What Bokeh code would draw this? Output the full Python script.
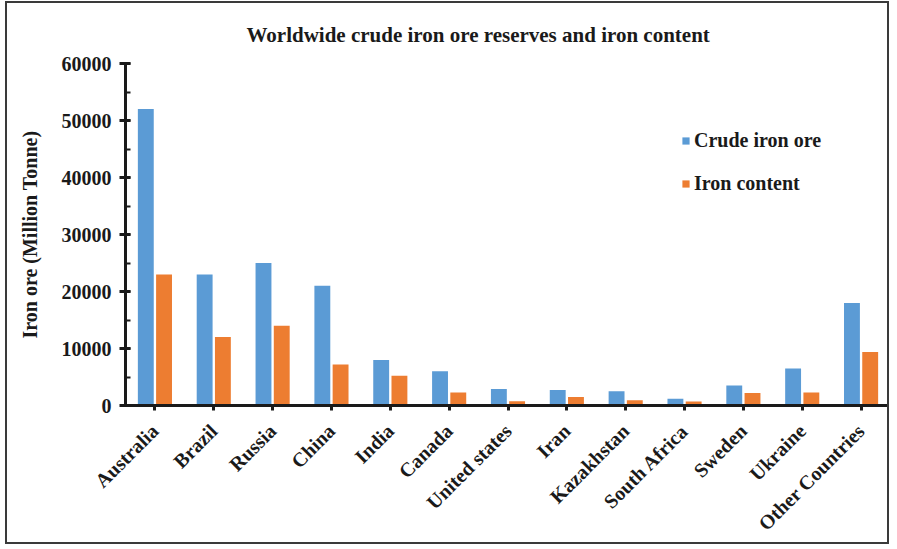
import math
from bokeh.plotting import figure
from bokeh.models import (FactorRange, Range1d, SingleIntervalTicker, Title,
                          Legend, LegendItem, ColumnDataSource)
from bokeh.transform import dodge
from bokeh.embed import file_html
from bokeh.resources import INLINE

# Reserves by country (million tonnes)
countries = ["Australia", "Brazil", "Russia", "China", "India", "Canada",
             "United states", "Iran", "Kazakhstan", "South Africa", "Sweden",
             "Ukraine", "Other Countries"]
crude_ore = [52000, 23000, 25000, 21000, 8000, 6000, 2900, 2700, 2500,
             1200, 3500, 6500, 18000]
iron_content = [23000, 12000, 14000, 7200, 5200, 2300, 760, 1500, 900,
                700, 2200, 2300, 9400]

BLUE = "#5B9BD5"
ORANGE = "#ED7D31"
SERIF = "Liberation Serif"
INK = "#1a1a1a"

src = ColumnDataSource(dict(country=countries, crude=crude_ore, iron=iron_content))

p = figure(
    x_range=FactorRange(*countries, range_padding=0),
    y_range=Range1d(0, 60000),
    width=884, height=543,
    min_border_left=118, min_border_right=1,
    min_border_top=60, min_border_bottom=141,
    output_backend="svg", toolbar_location=None,
)
p.styles = {"border": "2px solid #3a3a3a"}
p.margin = (1, 0, 0, 5)

p.title = Title(text="Worldwide crude iron ore reserves and iron content",
                align="left", offset=121, standoff=33,
                text_font=SERIF, text_font_size="21px",
                text_font_style="bold", text_color=INK)

r1 = p.vbar(x=dodge("country", -0.155, range=p.x_range), top="crude",
            width=0.27, source=src, fill_color=BLUE, line_color=None)
r2 = p.vbar(x=dodge("country", 0.155, range=p.x_range), top="iron",
            width=0.27, source=src, fill_color=ORANGE, line_color=None)

p.grid.visible = False
p.outline_line_color = None
p.background_fill_color = "white"
p.border_fill_color = "white"

# y axis
ya = p.yaxis[0]
ya.ticker = SingleIntervalTicker(interval=10000, num_minor_ticks=2)
ya.axis_label = "Iron ore (Million Tonne)"
ya.axis_label_text_font = SERIF
ya.axis_label_text_font_size = "20px"
ya.axis_label_text_font_style = "bold"
ya.axis_label_text_color = INK
ya.axis_label_standoff = 18
ya.major_label_text_font = SERIF
ya.major_label_text_font_size = "20px"
ya.major_label_text_font_style = "bold"
ya.major_label_text_color = INK
ya.major_label_standoff = 8
ya.axis_line_width = 3
ya.axis_line_color = INK
ya.major_tick_line_width = 3
ya.major_tick_line_color = INK
ya.major_tick_out = 6
ya.major_tick_in = 5
ya.minor_tick_line_width = 2
ya.minor_tick_line_color = INK
ya.minor_tick_out = 0
ya.minor_tick_in = 5

# x axis
xa = p.xaxis[0]
xa.major_label_orientation = math.pi / 4
xa.major_label_text_font = SERIF
xa.major_label_text_font_size = "20px"
xa.major_label_text_font_style = "bold"
xa.major_label_text_color = INK
xa.major_label_standoff = 17
xa.axis_line_width = 3
xa.axis_line_color = INK
xa.major_tick_line_width = 3
xa.major_tick_line_color = INK
xa.major_tick_out = 5
xa.major_tick_in = 0

legend = Legend(
    items=[LegendItem(label="Crude iron ore", renderers=[r1]),
           LegendItem(label="Iron content", renderers=[r2])],
    location=(556, 210),
    label_text_font=SERIF, label_text_font_size="20px",
    label_text_font_style="bold", label_text_color=INK,
    glyph_width=9, glyph_height=9, label_standoff=4,
    spacing=20, padding=0, margin=0,
    border_line_color=None, background_fill_alpha=0,
)
p.add_layout(legend, "center")

open("out.html", "w").write(file_html(p, INLINE))
